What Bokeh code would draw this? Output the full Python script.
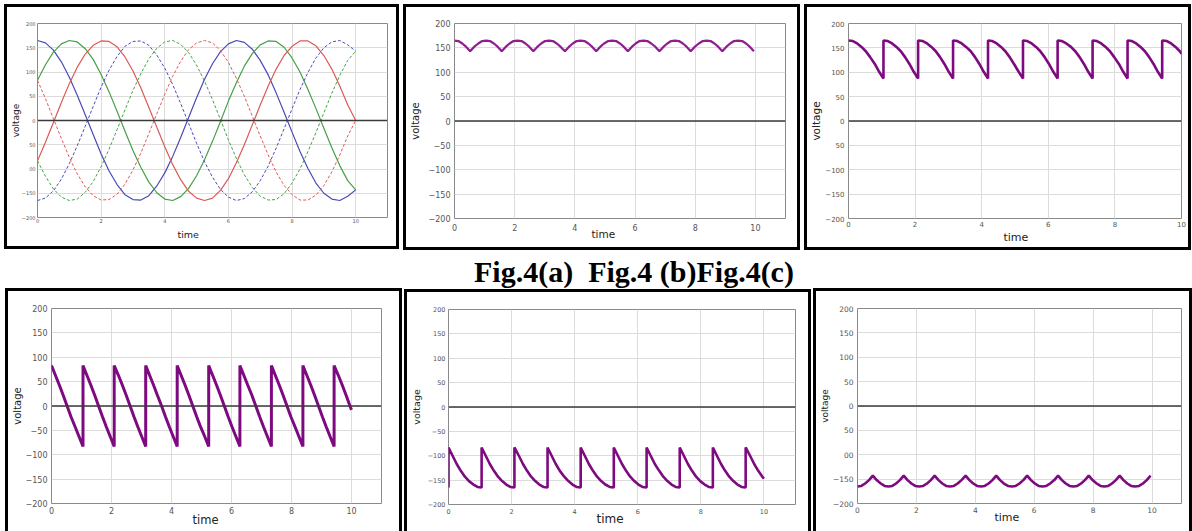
from bokeh.plotting import figure
from bokeh.models import Range1d, FixedTicker, Span, Div, Title
from bokeh.layouts import row, column
from bokeh.embed import file_html
from bokeh.resources import INLINE

# ---------------- data ----------------
sine_time = [0, 0.25, 0.5, 0.75, 1.0, 1.25, 1.5, 1.75, 2.0, 2.25, 2.5, 2.75, 3.0, 3.25,
             3.5, 3.75, 4.0, 4.25, 4.5, 4.75, 5.0, 5.25, 5.5, 5.75, 6.0, 6.25, 6.5, 6.75,
             7.0, 7.25, 7.5, 7.75, 8.0, 8.25, 8.5, 8.75, 9.0, 9.25, 9.5, 9.75, 10.0]
phase_blue = [165, 160, 145, 121, 89, 52, 12, -29, -69, -104, -132, -153, -163, -164, -155,
              -135, -108, -74, -35, 6, 47, 85, 117, 142, 158, 165, 161, 147, 124, 94, 57, 17,
              -24, -64, -99, -129, -150, -162, -165, -156, -143]
phase_green = [83, 115, 141, 158, 165, 162, 148, 126, 95, 59, 19, -22, -62, -97, -127, -149,
               -162, -165, -157, -140, -114, -81, -43, -2, 40, 78, 112, 138, 156, 164, 163,
               151, 129, 100, 64, 25, -16, -56, -93, -124, -143]
phase_red = [-83, -45, -4, 37, 76, 110, 137, 155, 164, 163, 152, 131, 102, 67, 27, -14, -54,
             -91, -122, -146, -160, -165, -160, -144, -120, -87, -50, -9, 32, 71, 106, 134,
             153, 164, 164, 154, 134, 106, 71, 32, 0]
phase_blue_neg = [-165, -160, -145, -121, -89, -52, -12, 29, 69, 104, 132, 153, 163, 164, 155,
                  135, 108, 74, 35, -6, -47, -85, -117, -142, -158, -165, -161, -147, -124, -94,
                  -57, -17, 24, 64, 99, 129, 150, 162, 165, 156, 143]
phase_green_neg = [-83, -115, -141, -158, -165, -162, -148, -126, -95, -59, -19, 22, 62, 97, 127,
                   149, 162, 165, 157, 140, 114, 81, 43, 2, -40, -78, -112, -138, -156, -164,
                   -163, -151, -129, -100, -64, -25, 16, 56, 93, 124, 143]
phase_red_neg = [83, 45, 4, -37, -76, -110, -137, -155, -164, -163, -152, -131, -102, -67, -27,
                 14, 54, 91, 122, 146, 160, 165, 160, 144, 120, 87, 50, 9, -32, -71, -106, -134,
                 -153, -164, -164, -154, -134, -106, -71, -32, 0]

env_time = [0, 0.13, 0.26, 0.39, 0.52, 0.65, 0.79, 0.92, 1.05, 1.18, 1.31, 1.44, 1.57, 1.70,
            1.83, 1.96, 2.09, 2.23, 2.36, 2.49, 2.62, 2.75, 2.88, 3.01, 3.14, 3.27, 3.40, 3.53,
            3.67, 3.80, 3.93, 4.06, 4.19, 4.32, 4.45, 4.58, 4.71, 4.84, 4.97, 5.11, 5.24, 5.37,
            5.50, 5.63, 5.76, 5.89, 6.02, 6.15, 6.28, 6.41, 6.54, 6.68, 6.81, 6.94, 7.07, 7.20,
            7.33, 7.46, 7.59, 7.72, 7.85, 7.98, 8.12, 8.25, 8.38, 8.51, 8.64, 8.77, 8.90, 9.03,
            9.16, 9.29, 9.42, 9.56, 9.69, 9.82, 9.95]
upper_env = [165, 164, 159, 152, 143, 152, 159, 164, 165, 164, 159, 152, 143, 152, 159, 164,
             165, 164, 159, 152, 143, 152, 159, 164, 165, 164, 159, 152, 143, 152, 159, 164,
             165, 164, 159, 152, 143, 152, 159, 164, 165, 164, 159, 152, 143, 152, 159, 164,
             165, 164, 159, 152, 143, 152, 159, 164, 165, 164, 159, 152, 143, 152, 159, 164,
             165, 164, 159, 152, 143, 152, 159, 164, 165, 164, 159, 152, 143]
lower_env = [-165, -164, -159, -152, -143, -152, -159, -164, -165, -164, -159, -152, -143, -152,
             -159, -164, -165, -164, -159, -152, -143, -152, -159, -164, -165, -164, -159, -152,
             -143, -152, -159, -164, -165, -164, -159, -152, -143, -152, -159, -164, -165, -164,
             -159, -152, -143, -152, -159, -164, -165, -164, -159, -152, -143, -152, -159, -164,
             -165, -164, -159, -152, -143, -152, -159, -164, -165, -164, -159, -152, -143, -152,
             -159, -164, -165, -164, -159, -152, -143]

seg_time = [0, 0.13, 0.26, 0.39, 0.52, 0.65, 0.79, 0.92, 1.05,
            1.05, 1.18, 1.31, 1.44, 1.57, 1.70, 1.83, 1.96, 2.09,
            2.09, 2.23, 2.36, 2.49, 2.62, 2.75, 2.88, 3.01, 3.14,
            3.14, 3.27, 3.40, 3.53, 3.67, 3.80, 3.93, 4.06, 4.19,
            4.19, 4.32, 4.45, 4.58, 4.71, 4.84, 4.97, 5.11, 5.24,
            5.24, 5.37, 5.50, 5.63, 5.76, 5.89, 6.02, 6.15, 6.28,
            6.28, 6.41, 6.54, 6.68, 6.81, 6.94, 7.07, 7.20, 7.33,
            7.33, 7.46, 7.59, 7.72, 7.85, 7.98, 8.12, 8.25, 8.38,
            8.38, 8.51, 8.64, 8.77, 8.90, 9.03, 9.16, 9.29, 9.42,
            9.42, 9.56, 9.69, 9.82, 9.95, 10.0]
alpha30 = [165, 164, 159, 152, 143, 131, 117, 101, 87,
           165, 164, 159, 152, 143, 131, 117, 101, 87,
           165, 164, 159, 152, 143, 131, 117, 101, 87,
           165, 164, 159, 152, 143, 131, 117, 101, 87,
           165, 164, 159, 152, 143, 131, 117, 101, 87,
           165, 164, 159, 152, 143, 131, 117, 101, 87,
           165, 164, 159, 152, 143, 131, 117, 101, 87,
           165, 164, 159, 152, 143, 131, 117, 101, 87,
           165, 164, 159, 152, 143, 131, 117, 101, 87,
           165, 164, 159, 152, 143, 138]
alpha90 = [83, 63, 43, 22, 0, -22, -43, -63, -83,
           83, 63, 43, 22, 0, -22, -43, -63, -83,
           83, 63, 43, 22, 0, -22, -43, -63, -83,
           83, 63, 43, 22, 0, -22, -43, -63, -83,
           83, 63, 43, 22, 0, -22, -43, -63, -83,
           83, 63, 43, 22, 0, -22, -43, -63, -83,
           83, 63, 43, 22, 0, -22, -43, -63, -83,
           83, 63, 43, 22, 0, -22, -43, -63, -83,
           83, 63, 43, 22, 0, -22, -43, -63, -83,
           83, 63, 43, 22, 0, -8]
inv_time = [0] + seg_time
alpha150 = [-165,
            -83, -100, -117, -131, -143, -152, -159, -164, -165,
            -83, -100, -117, -131, -143, -152, -159, -164, -165,
            -83, -100, -117, -131, -143, -152, -159, -164, -165,
            -83, -100, -117, -131, -143, -152, -159, -164, -165,
            -83, -100, -117, -131, -143, -152, -159, -164, -165,
            -83, -100, -117, -131, -143, -152, -159, -164, -165,
            -83, -100, -117, -131, -143, -152, -159, -164, -165,
            -83, -100, -117, -131, -143, -152, -159, -164, -165,
            -83, -100, -117, -131, -143, -152, -159, -164, -165,
            -83, -100, -117, -131, -143, -147]

x_ticks = [0, 2, 4, 6, 8, 10]
y_ticks = [-200, -150, -100, -50, 0, 50, 100, 150, 200]
y_labels_std = ["\u2212200", "\u2212150", "\u2212100", "\u221250", "0", "50", "100", "150", "200"]
y_labels_a = ["\u2212200", "\u2212150", "00", "50", "0", "50", "100", "150", "200"]
y_labels_c = ["\u2212200", "\u2212150", "\u2212100", "50", "0", "50", "100", "150", "200"]
y_labels_f = ["\u2212200", "\u2212150", "00", "50", "0", "50", "100", "150", "200"]

caption = "Fig.4(a)\u00a0 Fig.4 (b)Fig.4(c)"

PURPLE = "#7e0a80"
FONT = "DejaVu Sans"


def make_panel(w, h, left, right, top, bottom, x_end, tick_fs, ylab_fs, xlab_fs,
               ylabels, y_std, ylab_std, x_std, xlab_standoff, xlab_offset, margin,
               bottom_border=True):
    # the canvas is laid out over the border box, so pad right/bottom by the borders
    extra_r = 6
    extra_b = 6 if bottom_border else 0
    p = figure(width=w, height=h, output_backend="svg", toolbar_location=None,
               x_range=Range1d(0, x_end), y_range=Range1d(-200, 200),
               min_border_left=left, min_border_right=right + extra_r,
               min_border_top=top, min_border_bottom=bottom + extra_b,
               background_fill_color="white", border_fill_color="white")
    p.margin = margin
    st = {"border": "3px solid black", "box-sizing": "content-box"}
    if not bottom_border:
        st["border-bottom"] = "none"
    p.styles = st
    p.outline_line_color = "#8a8a8a"
    p.outline_line_width = 1
    p.xaxis.ticker = FixedTicker(ticks=x_ticks)
    p.yaxis.ticker = FixedTicker(ticks=y_ticks)
    p.xaxis.major_label_overrides = {t: str(t) for t in x_ticks}
    p.yaxis.major_label_overrides = {t: s for t, s in zip(y_ticks, ylabels)}
    for ax in (p.xaxis[0], p.yaxis[0]):
        ax.axis_line_color = None
        ax.major_tick_out = 0
        ax.major_tick_in = 0
        ax.minor_tick_out = 0
        ax.minor_tick_in = 0
        ax.major_label_text_font = FONT
        ax.major_label_text_font_size = f"{tick_fs}px"
        ax.major_label_text_color = "#555555"
        ax.axis_label_text_font = FONT
        ax.axis_label_text_font_style = "normal"
        ax.axis_label_text_color = "#222222"
    p.yaxis.axis_label = "voltage"
    p.yaxis.axis_label_text_font_size = f"{ylab_fs}px"
    p.yaxis.major_label_standoff = y_std
    p.yaxis.axis_label_standoff = ylab_std
    p.xaxis.major_label_standoff = x_std
    # x-axis title, placed under the 0..10 span as in the original
    t = Title(text="time", align="left", vertical_align="middle",
              text_font=FONT, text_font_size=f"{xlab_fs}px", text_font_style="normal",
              text_color="#222222")
    t.offset = xlab_offset
    try:
        t.standoff = xlab_standoff
    except Exception:
        t.standoff = 0
    p.add_layout(t, "below")
    p.grid.grid_line_color = "#dcdcdc"
    p.grid.grid_line_width = 1
    p.add_layout(Span(location=0, dimension="width", line_color="#3a3a3a", line_width=1.6))
    return p


# (a) three-phase voltages
pa = make_panel(389, 239, 24, 9, 11, 29, 11, 5, 9, 9.5, y_labels_a, 2, -2, 1, 5, 140,
                (4, 0, 0, 4))
for vals, col, dash in [(phase_blue, "#4a4ab8", "solid"), (phase_green, "#46a046", "solid"),
                        (phase_red, "#dc5a56", "solid"), (phase_blue_neg, "#4a4ab8", "3 2"),
                        (phase_green_neg, "#46a046", "3 2"), (phase_red_neg, "#dc5a56", "3 2")]:
    pa.line(sine_time, vals, line_color=col, line_width=1.2 if dash == "solid" else 1.0,
            line_dash=dash)

# (b) upper envelope
pb = make_panel(391, 240, 40, 12, 16, 28, 11, 8, 10, 10.5, y_labels_std, 4, 5, 5, -13, 137,
                (4, 0, 0, 4))
pb.line(env_time, upper_env, line_color="#8e1f8e", line_width=2.2)

# (c) alpha = 30
pc = make_panel(381, 240, 36, 7, 14, 26, 10, 7, 10.5, 11, y_labels_c, 4, 0, 2, 1, 155,
                (4, 0, 0, 4))
pc.line(seg_time, alpha30, line_color=PURPLE, line_width=2.6)

# (d) alpha = 90
pd_ = make_panel(391, 240, 34, 18, 16, 29, 11, 8, 10, 11.5, y_labels_std, 4, 0, 3, -10, 141,
                 (0, 0, 0, 5), bottom_border=False)
pd_.line(seg_time, alpha90, line_color=PURPLE, line_width=3)

# (e) alpha = 150
pe = make_panel(401, 240, 36, 13, 15, 21, 11, 6.5, 9.5, 12, y_labels_std, 3, 3, 4, -11, 148,
                (1, 0, 0, 2), bottom_border=False)
pe.line(inv_time, alpha150, line_color=PURPLE, line_width=2.6)

# (f) lower envelope
pf = make_panel(373, 240, 36, 8, 17, 31, 11, 7.5, 9, 11, y_labels_f, 4, 0, 3, -12, 137,
                (0, 0, 0, 2), bottom_border=False)
pf.line(env_time, lower_env, line_color=PURPLE, line_width=2.6)

cap = Div(text=('<div style="font-family: \'Liberation Serif\', \'Times New Roman\', serif; '
                'font-weight: bold; font-size: 30px; line-height: 30px; padding-left: 474px; '
                'padding-top: 7px; white-space: pre; color: #000;">' + caption + '</div>'),
          width=1192, height=38, margin=(0, 0, 0, 0))

layout = column(row(pa, pb, pc), cap, row(pd_, pe, pf))

open("out.html", "w").write(file_html(layout, INLINE))
